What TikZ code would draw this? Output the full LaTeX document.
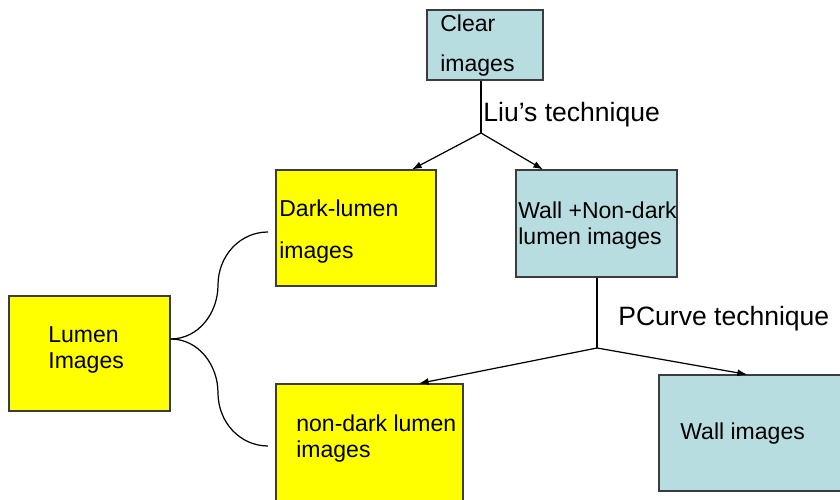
\documentclass[tikz,border=0pt]{standalone}
\usepackage{fontspec}
\setmainfont{Liberation Sans}
\usetikzlibrary{positioning,arrows.meta}
\definecolor{boxblue}{RGB}{184,221,224}
\definecolor{boxyellow}{RGB}{255,255,0}
\definecolor{edgegray}{RGB}{60,60,60}
\tikzset{
  bluebox/.style={draw=edgegray, fill=boxblue, line width=0.6pt, inner sep=0pt},
  yellowbox/.style={draw=edgegray, fill=boxyellow, line width=0.6pt, inner sep=0pt},
  boxtext/.style={anchor=base west, inner sep=0pt, align=left, font=\fontsize{13.1pt}{15.2pt}\selectfont},
  techlabel/.style={anchor=base west, inner sep=0pt, font=\fontsize{15.1pt}{18pt}\selectfont},
  branch/.style={black, line width=0.7pt},
}
\begin{document}
\begin{tikzpicture}[>={Latex[length=5.5pt,width=4pt]}]
        \useasboundingbox (0,0) rectangle (16.8,10);
        \clip (0,0) rectangle (16.8,10);
        % boxes
        \node[bluebox, minimum width=2.32cm, minimum height=1.4cm] (clear) at (9.70,9.10) {};
        \node[yellowbox, minimum width=3.2cm, minimum height=2.32cm] (dark) at (7.12,5.44) {};
        \node[bluebox, minimum width=3.22cm, minimum height=2.14cm] (wallnd) at (11.93,5.53) {};
        \node[yellowbox, minimum width=3.22cm, minimum height=2.3cm] (lumen) at (1.79,2.93) {};
        \node[yellowbox, minimum width=3.74cm, minimum height=2.6cm] (nondark) at (7.39,1.02) {};
        \node[bluebox, minimum width=3.9cm, minimum height=2.32cm] (wall) at (15.13,1.34) {};
        % box texts (base = last line)
        \node[boxtext] (cleartext) at (8.80,8.56) {Clear\\[7.6pt]images};
        \node[boxtext] (darktext) at (5.58,4.82) {Dark-lumen\\[8.7pt]images};
        \node[boxtext] (wallndtext) at (10.36,5.10) {Wall +Non-dark\\lumen images};
        \node[boxtext] (lumentext) at (0.96,2.62) {Lumen\\Images};
        \node[boxtext] (nondarktext) at (5.92,0.84) {non-dark lumen\\images};
        \node[boxtext] (walltext) at (13.60,1.20) {Wall images};
        % technique labels
        \node[techlabel] (liu) at (9.66,7.56) {Liu’s technique};
        \node[techlabel] (pcurve) at (12.36,3.48) {PCurve technique};
        % Liu's technique split
        \coordinate (liusplit) at (9.62,7.34);
        \draw[branch] (clear.south -| liusplit) -- (liusplit);
        \draw[branch,->] (liusplit) -- (dark.north -| 8.24,0);
        \draw[branch,->] (liusplit) -- (wallnd.north -| 10.86,0);
        % PCurve technique split
        \coordinate (pcsplit) at (11.94,3.04);
        \draw[branch] (wallnd.south -| pcsplit) -- (pcsplit);
        \draw[branch,->] (pcsplit) -- (nondark.north -| 8.38,0);
        \draw[branch,->] (pcsplit) -- (wall.north -| 14.94,0);
        % brace from lumen images
        \coordinate (braceup) at (5.36,5.36);
        \coordinate (bracedown) at (5.36,1.08);
        \draw[branch] (lumen.east |- 0,3.22) to[out=0,in=270] (4.36,4.30) to[out=90,in=180] (braceup);
        \draw[branch] (lumen.east |- 0,3.22) to[out=0,in=90] (4.36,2.14) to[out=270,in=180] (bracedown);
      \end{tikzpicture}
\end{document}
